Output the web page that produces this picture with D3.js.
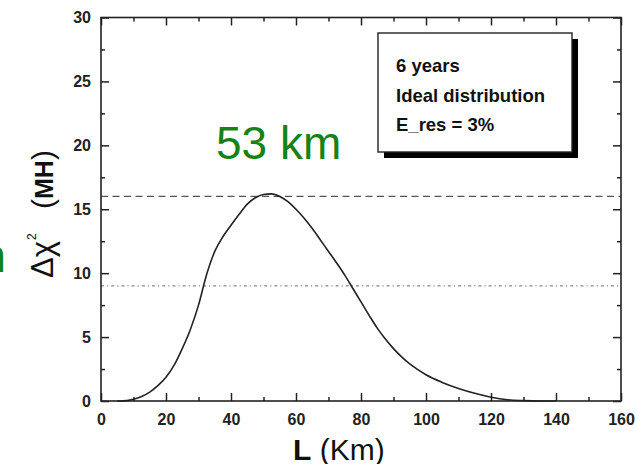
<!DOCTYPE html>
<html>
<head>
<meta charset="utf-8">
<script src="https://cdn.jsdelivr.net/npm/d3@7"></script>
<style>
  body { margin: 0; background: #fff; }
  svg { display: block; font-family: "Liberation Sans", Arial, sans-serif; }
</style>
</head>
<body>
<div id="wrapper"></div>
<script>
var width = 635;
var height = 464;
var margin = {top: 17.5, right: 14, bottom: 63, left: 101};

// curve: L (km) vs delta chi^2 (MH)
var distances = [5, 8, 10, 12.5, 15, 17.5, 20, 22.5, 25, 27.5, 30, 32.5, 35, 37.5, 40, 42.5, 45, 47.5,
	50, 52.5, 55, 57.5, 60, 62.5, 65, 67.5, 70, 72.5, 75, 77.5, 80, 82.5, 85, 87.5, 90, 92.5, 95, 97.5,
	100, 105, 110, 115, 120, 125, 130, 135, 140];
var chi2 = [0, 0.03, 0.13, 0.35, 0.7, 1.2, 1.85, 2.8, 4.1, 5.6, 7.5, 9.9, 11.7, 12.85, 13.75, 14.6, 15.4, 15.9,
	16.15, 16.2, 16.0, 15.6, 15.0, 14.3, 13.5, 12.6, 11.7, 10.8, 9.85, 8.8, 7.75, 6.7, 5.7, 4.85, 4.1, 3.45,
	2.9, 2.45, 2.05, 1.45, 0.98, 0.6, 0.3, 0.1, 0.03, 0, 0];

var xTicks = [0, 20, 40, 60, 80, 100, 120, 140, 160];
var xMinor = [10, 30, 50, 70, 90, 110, 130, 150];
var yTicks = [0, 5, 10, 15, 20, 25, 30];
var yMinor = [2.5, 7.5, 12.5, 17.5, 22.5, 27.5];

var refLevels = [16, 9];   // dashed, dash-dot
var legendLines = ["6 years", "Ideal distribution", "E_res = 3%"];
var peakLabel = "53 km";

var svg = d3.select("#wrapper").append("svg")
	.attr("width", width)
	.attr("height", height);

var x = d3.scaleLinear().domain([0, 160]).range([margin.left, width - margin.right]);
var y = d3.scaleLinear().domain([0, 30]).range([height - margin.bottom, margin.top]);

var x0 = x.range()[0], x1 = x.range()[1];
var y0 = y.range()[0], y1 = y.range()[1];

// reference lines
svg.append("line")
	.attr("x1", x0).attr("x2", x1)
	.attr("y1", y(refLevels[0])).attr("y2", y(refLevels[0]))
	.attr("stroke", "#555").attr("stroke-width", 1.2)
	.attr("stroke-dasharray", "7,4.5");
svg.append("line")
	.attr("x1", x0).attr("x2", x1)
	.attr("y1", y(refLevels[1])).attr("y2", y(refLevels[1]))
	.attr("stroke", "#888").attr("stroke-width", 1.2)
	.attr("stroke-dasharray", "3,3,1.2,3");

// curve
var line = d3.line()
	.x(function(d){ return x(d[0]); })
	.y(function(d){ return y(d[1]); })
	.curve(d3.curveMonotoneX);

svg.append("path")
	.datum(d3.zip(distances, chi2))
	.attr("d", line)
	.attr("fill", "none")
	.attr("stroke", "#222")
	.attr("stroke-width", 1.6);

// axes: ticks inward on all four sides
function addAxis(axis, tx, ty){
	var g = svg.append("g").attr("transform", "translate(" + tx + "," + ty + ")").call(axis);
	g.select(".domain").remove();
	g.selectAll("line").attr("stroke", "#222").attr("stroke-width", 1.5);
	g.selectAll("text")
		.attr("font-size", 16)
		.attr("font-weight", "bold")
		.attr("fill", "#222");
	return g;
}

addAxis(d3.axisBottom(x).tickValues(xTicks).tickSize(-8).tickPadding(13).tickFormat(d3.format("d")), 0, y0);
addAxis(d3.axisBottom(x).tickValues(xMinor).tickSize(-4).tickFormat(""), 0, y0);
addAxis(d3.axisTop(x).tickValues(xTicks).tickSize(-8).tickFormat(""), 0, y1);
addAxis(d3.axisTop(x).tickValues(xMinor).tickSize(-4).tickFormat(""), 0, y1);
addAxis(d3.axisLeft(y).tickValues(yTicks).tickSize(-8).tickPadding(10).tickFormat(d3.format("d")), x0, 0);
addAxis(d3.axisLeft(y).tickValues(yMinor).tickSize(-4).tickFormat(""), x0, 0);
addAxis(d3.axisRight(y).tickValues(yTicks).tickSize(-8).tickFormat(""), x1, 0);
addAxis(d3.axisRight(y).tickValues(yMinor).tickSize(-4).tickFormat(""), x1, 0);

svg.append("rect")
	.attr("x", x0).attr("y", y1)
	.attr("width", x1 - x0).attr("height", y0 - y1)
	.attr("fill", "none")
	.attr("stroke", "#222")
	.attr("stroke-width", 1.6);

// legend box with shadow
var box = {x: 378, y: 33, w: 194, h: 119};
svg.append("rect")
	.attr("x", box.x + 6).attr("y", box.y + 6)
	.attr("width", box.w).attr("height", box.h)
	.attr("fill", "#000");
svg.append("rect")
	.attr("x", box.x).attr("y", box.y)
	.attr("width", box.w).attr("height", box.h)
	.attr("fill", "#fff")
	.attr("stroke", "#222")
	.attr("stroke-width", 1.4);

svg.selectAll(".legendText")
	.data(legendLines)
	.enter().append("text")
	.attr("class", "legendText")
	.attr("x", box.x + 18)
	.attr("y", function(d, i){ return 72 + i * 29.5; })
	.attr("font-size", 18.5)
	.attr("font-weight", "bold")
	.attr("fill", "#111")
	.text(function(d){ return d; });

// green annotations
svg.append("text")
	.attr("x", 216).attr("y", 159)
	.attr("font-size", 46)
	.attr("fill", "#168216")
	.text(peakLabel);
svg.append("text")
	.attr("x", 6).attr("y", 272)
	.attr("text-anchor", "end")
	.attr("font-size", 46)
	.attr("fill", "#168216")
	.text("m");

// x axis title
var xt = svg.append("text")
	.attr("x", 293).attr("y", 460)
	.attr("font-size", 30)
	.attr("fill", "#111");
xt.append("tspan").attr("font-weight", "bold").text("L");
xt.append("tspan").text(" (Km)");

// y axis title (rotated pieces)
svg.append("text")
	.attr("transform", "translate(53,278) rotate(-90)")
	.attr("font-size", 31)
	.attr("fill", "#111")
	.text("\u0394\u03c7");
svg.append("text")
	.attr("transform", "translate(36,240) rotate(-90)")
	.attr("font-size", 12)
	.attr("fill", "#111")
	.text("2");
var yt = svg.append("text")
	.attr("transform", "translate(53,209) rotate(-90)")
	.attr("font-size", 30)
	.attr("fill", "#111");
yt.append("tspan").text("(");
yt.append("tspan").attr("font-weight", "bold").attr("font-size", 25).text("MH");
yt.append("tspan").text(")");
</script>
</body>
</html>
